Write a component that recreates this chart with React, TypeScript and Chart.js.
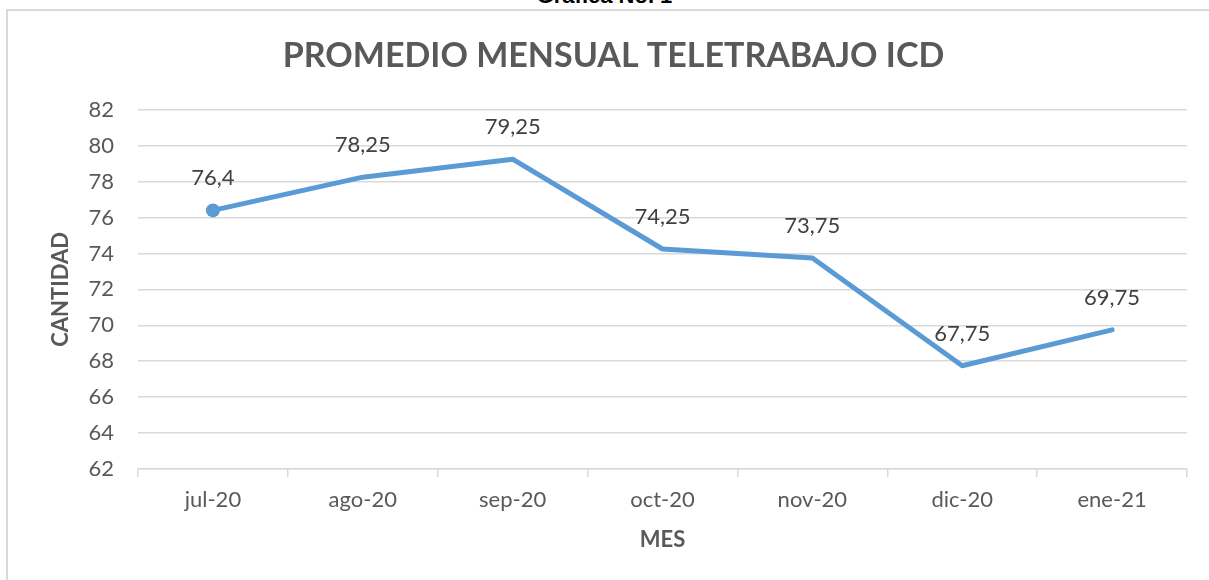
import React, { useEffect, useRef } from "react";
import { Chart, registerables } from "chart.js";

Chart.register(...registerables);

const categories = ["jul-20", "ago-20", "sep-20", "oct-20", "nov-20", "dic-20", "ene-21"];
const promedio = [76.4, 78.25, 79.25, 74.25, 73.75, 67.75, 69.75];
const valueLabels = ["76,4", "78,25", "79,25", "74,25", "73,75", "67,75", "69,75"];
const pointSizes = [7, 0, 0, 0, 0, 0, 0];

const FONT = "Lato, 'Open Sans', sans-serif";
const GREY = "#595959";
const GRID = "#D9D9D9";

const dataLabelPlugin = {
  id: "dataLabels",
  afterDatasetsDraw(chart: any) {
    const ctx = chart.ctx;
    const meta = chart.getDatasetMeta(0);
    ctx.save();
    ctx.font = `22px ${FONT}`;
    ctx.fillStyle = "#404040";
    ctx.textAlign = "center";
    ctx.textBaseline = "middle";
    meta.data.forEach((pt: any, i: number) => {
      ctx.fillText(valueLabels[i], pt.x, pt.y - 32);
    });
    ctx.restore();
  },
};

export default function App() {
  const ref = useRef<HTMLCanvasElement | null>(null);
  useEffect(() => {
    if (!ref.current) return;
    const chart = new Chart(ref.current, {
      type: "line",
      data: {
        labels: categories,
        datasets: [
          {
            data: promedio,
            borderColor: "#5B9BD5",
            backgroundColor: "#5B9BD5",
            borderWidth: 5,
            borderCapStyle: "round",
            borderJoinStyle: "round",
            tension: 0,
            pointRadius: pointSizes,
            pointHoverRadius: pointSizes,
            pointBorderWidth: 0,
            fill: false,
          },
        ],
      },
      options: {
        responsive: false,
        animation: false,
        layout: { padding: { top: 21, left: 40, right: 22, bottom: 0 } },
        plugins: {
          legend: { display: false },
          tooltip: { enabled: false },
          title: {
            display: true,
            text: "PROMEDIO MENSUAL TELETRABAJO ICD",
            color: GREY,
            font: { family: FONT, size: 34, weight: "bold", lineHeight: 1.2 },
            padding: { top: 15, bottom: 33 },
          },
        },
        scales: {
          x: {
            offset: true,
            grid: {
              offset: true,
              drawOnChartArea: false,
              drawTicks: true,
              tickLength: 8,
              color: GRID,
              lineWidth: 1.5,
            },
            border: { display: true, color: GRID, width: 1.5 },
            ticks: { color: GREY, font: { family: FONT, size: 22 }, padding: 10 },
            title: {
              display: true,
              text: "MES",
              color: GREY,
              font: { family: FONT, size: 22, weight: "bold", lineHeight: 1.2 },
              padding: { top: 0, bottom: 27 },
            },
            afterFit(scale: any) {
              scale.height = 111;
            },
          },
          y: {
            min: 62,
            max: 82,
            ticks: { stepSize: 2, color: GREY, font: { family: FONT, size: 22 }, padding: 24 },
            grid: { drawTicks: false, color: GRID, lineWidth: 1.5 },
            border: { display: false },
            title: {
              display: true,
              text: "CANTIDAD",
              color: GREY,
              font: { family: FONT, size: 22, weight: "bold", lineHeight: 1.2 },
              padding: { top: 8, bottom: 0 },
            },
            afterFit(scale: any) {
              scale.width = 98;
            },
          },
        },
      },
      plugins: [dataLabelPlugin],
    } as any);
    return () => chart.destroy();
  }, []);

  return (
    <div style={{ position: "fixed", left: 0, top: 0, width: 1209, height: 580, overflow: "hidden", background: "#fff" }}>
      <div
        style={{
          position: "absolute",
          left: 0,
          width: 1209,
          top: -15,
          textAlign: "center",
          fontFamily: "'Liberation Sans', Arial, sans-serif",
          fontWeight: "bold",
          fontSize: 22,
          lineHeight: "22px",
          color: "#000",
        }}
      >
        Gráfica No. 1
      </div>
      <div
        style={{
          position: "absolute",
          left: 6,
          top: 9,
          width: 1300,
          height: 700,
          borderTop: "2px solid #D9D9D9",
          borderLeft: "2px solid #D9D9D9",
        }}
      />
      <canvas ref={ref} width={1209} height={580} style={{ position: "absolute", left: 0, top: 0 }} />
    </div>
  );
}
